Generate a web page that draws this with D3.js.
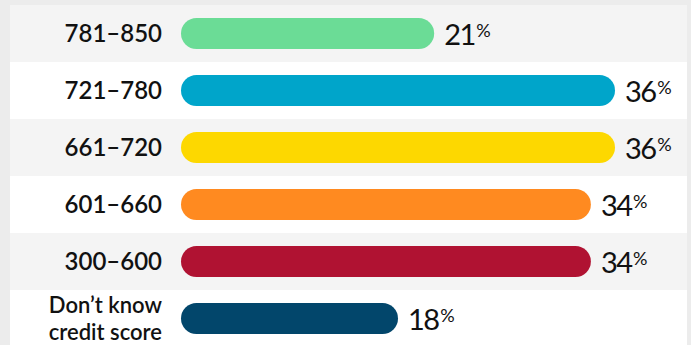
<!DOCTYPE html>
<html>
<head>
<meta charset="utf-8">
<script src="https://cdn.jsdelivr.net/npm/d3@7"></script>
<style>
  html, body { margin: 0; padding: 0; background: #ececec; }
  svg { display: block; }
</style>
</head>
<body>
<svg id="chart" width="691" height="345"></svg>
<script>
// Credit score bands and share of respondents (%)
const categories = ["781–850", "721–780", "661–720", "601–660", "300–600", "Don’t know\ncredit score"];
const values = [21, 36, 36, 34, 34, 18];
const colors = ["#6bdc96", "#00a5ca", "#fdd800", "#ff8a20", "#b01232", "#02466b"];

const W = 691, H = 345;
const panel = { left: 10, right: 687, top: 5 };
const rowH = 57;

const svg = d3.select("#chart");

const y = d3.scaleBand()
  .domain(categories)
  .range([panel.top, panel.top + rowH * categories.length])
  .padding(0);

const x = d3.scaleLinear()
  .domain([0, 36])
  .range([181, 615]);

const barH = 31;

// Panel with alternating row shading
svg.append("rect")
  .attr("x", panel.left).attr("y", panel.top)
  .attr("width", panel.right - panel.left).attr("height", H - panel.top)
  .attr("fill", "#ffffff");

svg.selectAll("rect.row")
  .data(categories)
  .join("rect")
  .attr("class", "row")
  .attr("x", panel.left)
  .attr("y", d => y(d))
  .attr("width", panel.right - panel.left)
  .attr("height", y.bandwidth())
  .attr("fill", (d, i) => i % 2 === 0 ? "#f4f4f4" : "#ffffff");

// Rounded bars
svg.selectAll("rect.bar")
  .data(values)
  .join("rect")
  .attr("class", "bar")
  .attr("x", x(0))
  .attr("y", (d, i) => y(categories[i]) + y.bandwidth() / 2 - barH / 2)
  .attr("width", d => x(d) - x(0))
  .attr("height", barH)
  .attr("rx", barH / 2)
  .attr("fill", (d, i) => colors[i]);

// Category labels (right aligned; wrapped labels get one text per line)
const labelFont = "Lato, 'Noto Sans', sans-serif";
categories.forEach(d => {
  const lines = d.split("\n");
  const cy = y(d) + y.bandwidth() / 2;
  const multi = lines.length > 1;
  const size = multi ? 22 : 24;
  const lh = 26.5;
  lines.forEach((ln, j) => {
    svg.append("text")
      .attr("class", "cat")
      .attr("text-anchor", "end")
      .attr("font-family", labelFont)
      .attr("font-size", size)
      .attr("font-weight", 600)
      .attr("fill", "#111")
      .attr("x", 162)
      .attr("y", cy + 8 + (j - (lines.length - 1) / 2) * lh)
      .text(ln);
  });
});

// Value labels with superscript percent sign
const vals = svg.selectAll("text.val")
  .data(values)
  .join("text")
  .attr("class", "val")
  .attr("font-family", labelFont)
  .attr("font-size", 29)
  .attr("fill", "#111")
  .attr("x", d => x(d) + 10)
  .attr("y", (d, i) => y(categories[i]) + y.bandwidth() / 2 + 11)
  .attr("letter-spacing", -1.5);

vals.append("tspan").text(d => d);
vals.append("tspan")
  .attr("font-size", 18)
  .attr("dy", -8)
  .attr("dx", 1.5)
  .attr("letter-spacing", -0.5)
  .text("%");
</script>
</body>
</html>
